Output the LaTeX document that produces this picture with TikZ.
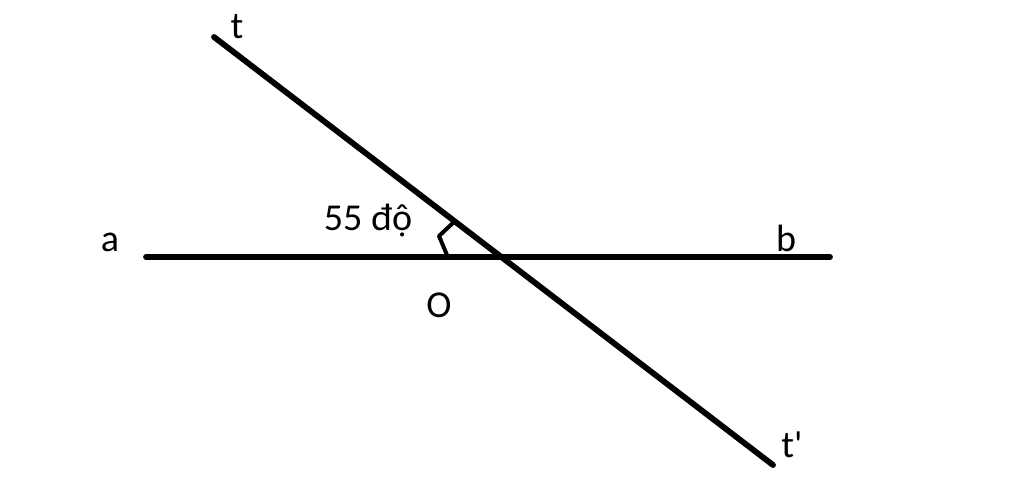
\documentclass[tikz,border=0pt]{standalone}
\usepackage{fontspec}
\setmainfont{Carlito}
\begin{document}
\begin{tikzpicture}[x=1pt,y=-1pt,
  mainline/.style={line width=5.8pt,line cap=round},
  anglemark/.style={line width=4pt,line join=round},
  lbl/.style={font=\fontsize{38}{44}\selectfont,inner sep=0pt,text=black}]
\useasboundingbox (0,0) rectangle (1024,499);
\coordinate (A) at (146,257);
\coordinate (B) at (830,257);
\coordinate (T) at (214,37);
\coordinate (T2) at (773,465);
\coordinate (M1) at (455,221);
\coordinate (M2) at (439,236);
\coordinate (M3) at (447,255);
\draw[mainline] (A) -- (B);
\draw[mainline] (T) -- (T2);
\draw[anglemark] (M1) -- (M2) -- (M3);
\node[lbl] (lt) at (237,27) {t};
\node[lbl] (la) at (110,242) {a};
\node[lbl] (lang) at (368,221) {55 độ};
\node[lbl] (lb) at (786,238) {b};
\node[lbl] (lo) at (439,305) {O};
\node[lbl] (lt2) at (792,445) {t\textquotesingle};
\end{tikzpicture}
\end{document}
